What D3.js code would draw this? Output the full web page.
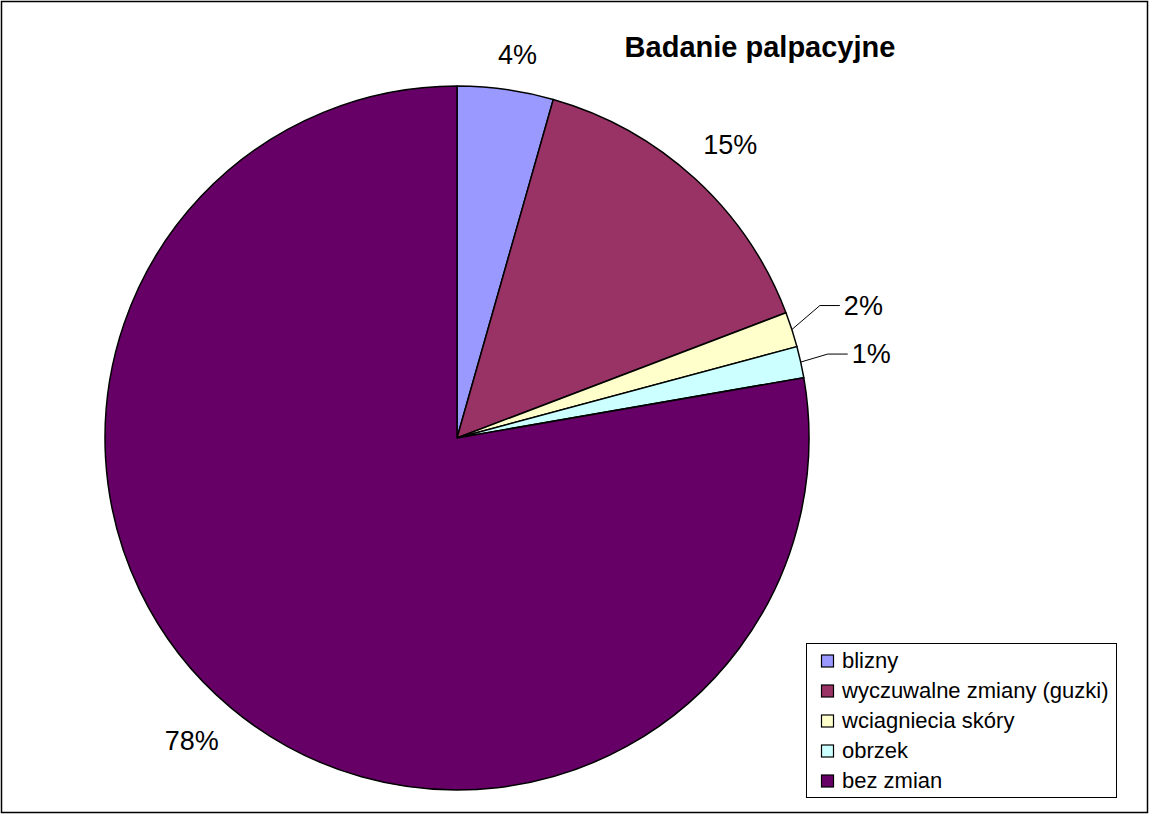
<!DOCTYPE html>
<html><head><meta charset="utf-8">
<script src="https://cdn.jsdelivr.net/npm/d3@7"></script>
<style>body{margin:0;background:#fff}svg{display:block;font-family:"Liberation Sans",Arial,sans-serif}</style>
</head><body>
<svg id="c" width="1150" height="815"></svg>
<script>
const categories = ["blizny","wyczuwalne zmiany (guzki)","wciagniecia skóry","obrzek","bez zmian"];
const values = [4.41, 14.80, 1.61, 1.44, 77.74];
const labels = ["4%","15%","2%","1%","78%"];
const colors = ["#9999FF","#993366","#FFFFCC","#CCFFFF","#660066"];
const title = "Badanie palpacyjne";

const svg = d3.select("#c");
svg.append("rect").attr("x",1.5).attr("y",1.5).attr("width",1146).attr("height",811)
  .attr("fill","#fff").attr("stroke","#000").attr("stroke-width",1.5);

const cx = 457, cy = 438, R = 352;
const pie = d3.pie().sort(null).value(d=>d)(values);
const arc = d3.arc().innerRadius(0).outerRadius(R);
const g = svg.append("g").attr("transform",`translate(${cx},${cy})`);
g.selectAll("path").data(pie).join("path")
  .attr("d",arc).attr("fill",(d,i)=>colors[i])
  .attr("stroke","#000").attr("stroke-width",1.5).attr("stroke-linejoin","round");

const mid = pie.map(d=>(d.startAngle+d.endAngle)/2);
// outside labels for larger slices
const outR = {0:388, 1:400, 4:398};
const nudge = {0:[7,0], 1:[3,1], 4:[-9,-3]};
[0,1,4].forEach(i=>{
  const a = mid[i], r = outR[i];
  svg.append("text").attr("x",cx+r*Math.sin(a)+nudge[i][0]).attr("y",cy-r*Math.cos(a)+10+nudge[i][1])
    .attr("text-anchor","middle").attr("font-size",27).attr("fill","#000").text(labels[i]);
});
// leader-line labels for small slices
const leaders = [{i:2, bend:[28,-24], end:48}, {i:3, bend:[27,-8], end:47}];
leaders.forEach(L=>{
  const a = mid[L.i];
  const x0 = cx+R*Math.sin(a), y0 = cy-R*Math.cos(a);
  const x1 = x0+L.bend[0], y1 = y0+L.bend[1];
  const x2 = x0+L.end;
  svg.append("polyline").attr("points",`${x0},${y0} ${x1},${y1} ${x2},${y1}`)
    .attr("fill","none").attr("stroke","#000").attr("stroke-width",1);
  svg.append("text").attr("x",x2+4).attr("y",y1+9).attr("font-size",27).text(labels[L.i]);
});

svg.append("text").attr("x",760).attr("y",57).attr("text-anchor","middle")
  .attr("font-size",29).attr("font-weight","bold").text(title);

// legend
const lg = svg.append("g");
lg.append("rect").attr("x",806.5).attr("y",643.5).attr("width",310).attr("height",154)
  .attr("fill","#fff").attr("stroke","#000").attr("stroke-width",1);
const ly = d3.scalePoint().domain(categories).range([661,781]);
categories.forEach((c,i)=>{
  lg.append("rect").attr("x",821.5).attr("y",ly(c)-6).attr("width",12).attr("height",12)
    .attr("fill",colors[i]).attr("stroke","#000").attr("stroke-width",1.2);
  lg.append("text").attr("x",842).attr("y",ly(c)+7).attr("font-size",22).text(c);
});
</script>
</body></html>
